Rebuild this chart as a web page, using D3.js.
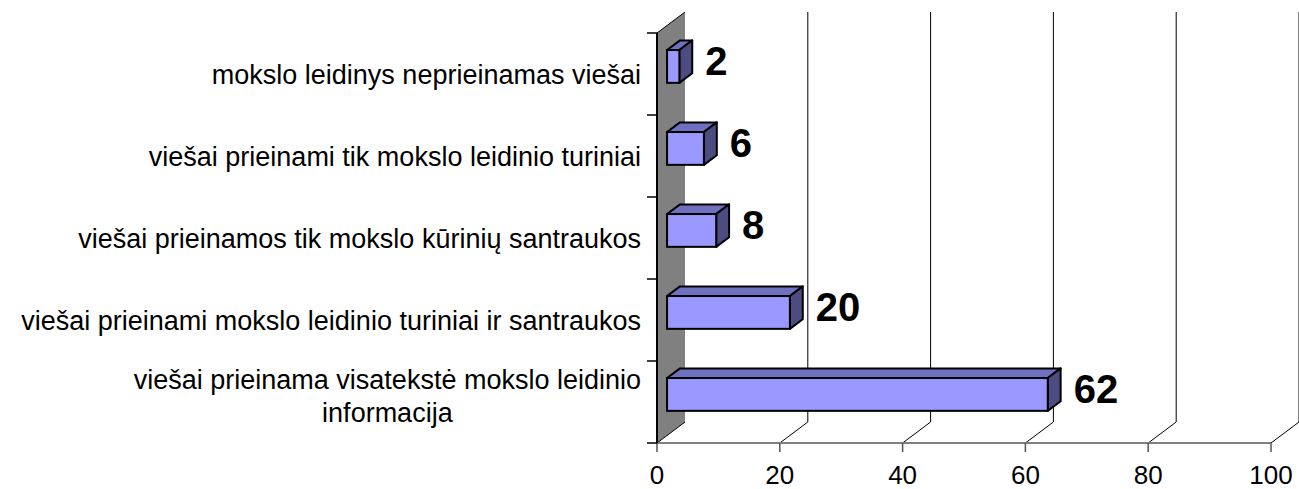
<!DOCTYPE html>
<html lang="lt">

<head>
  <meta charset="UTF-8">
  <title>Mokslo leidinių prieinamumas</title>
  <script src="https://d3js.org/d3.v7.min.js"></script>
  <style>
    body {
      margin: 0;
      background: #ffffff;
    }

    text {
      font-family: "Liberation Sans", Arial, sans-serif;
      fill: #000000;
    }

    .cat {
      font-size: 27px;
    }

    .tick-label {
      font-size: 26px;
    }

    .value {
      font-size: 40px;
      font-weight: bold;
    }
  </style>
</head>

<body>
  <svg width="1299" height="489"></svg>
  <script>
    // duomenys (iš viršaus į apačią)
    const categories = [
      "mokslo leidinys neprieinamas viešai",
      "viešai prieinami tik mokslo leidinio turiniai",
      "viešai prieinamos tik mokslo kūrinių santraukos",
      "viešai prieinami mokslo leidinio turiniai ir santraukos",
      "viešai prieinama visatekstė mokslo leidinio informacija"
    ];
    const labelLines = [
      ["mokslo leidinys neprieinamas viešai"],
      ["viešai prieinami tik mokslo leidinio turiniai"],
      ["viešai prieinamos tik mokslo kūrinių santraukos"],
      ["viešai prieinami mokslo leidinio turiniai ir santraukos"],
      ["viešai prieinama visatekstė mokslo leidinio", "informacija"]
    ];
    const values = [2, 6, 8, 20, 62];
    const xTicks = [0, 20, 40, 60, 80, 100];

    const svg = d3.select("svg");

    // priekinė plokštuma
    const x = d3.scaleLinear().domain([0, 100]).range([657, 1271]);
    const y = d3.scaleBand().domain(categories).range([33, 443]).paddingInner(0).paddingOuter(0);

    // 3D gylis
    const DX = 28, DY = -21;
    const z0 = 0.36, z1 = 0.82;
    const barH = y.bandwidth() * 0.4;

    const yTop = y.range()[0], yBottom = y.range()[1];

    // pilka siena
    svg.append("polygon")
      .attr("points", [
        [x(0), yTop], [x(0) + DX, yTop + DY], [x(0) + DX, yBottom + DY], [x(0), yBottom]
      ].map(p => p.join(",")).join(" "))
      .attr("fill", "#808080")
      .attr("stroke", "none");

    svg.append("line")
      .attr("x1", x(0)).attr("y1", yTop)
      .attr("x2", x(0) + DX).attr("y2", yTop + DY)
      .attr("stroke", "#000").attr("stroke-width", 1);

    svg.append("line")
      .attr("x1", x(0)).attr("y1", yBottom)
      .attr("x2", x(0) + DX).attr("y2", yBottom + DY)
      .attr("stroke", "#000").attr("stroke-width", 1);

    // tinklelis
    const grid = svg.append("g");
    xTicks.filter(t => t > 0).forEach(t => {
      grid.append("line")
        .attr("x1", x(t) + DX).attr("y1", yTop + DY)
        .attr("x2", x(t) + DX).attr("y2", yBottom + DY)
        .attr("stroke", "#000").attr("stroke-width", 1);
      grid.append("line")
        .attr("x1", x(t)).attr("y1", yBottom)
        .attr("x2", x(t) + DX).attr("y2", yBottom + DY)
        .attr("stroke", "#000").attr("stroke-width", 1);
    });

    // X ašis
    svg.append("line")
      .attr("x1", x(0)).attr("y1", yBottom)
      .attr("x2", x(100)).attr("y2", yBottom)
      .attr("stroke", "#808080").attr("stroke-width", 2);

    svg.selectAll(".xtick")
      .data(xTicks)
      .enter()
      .append("line")
      .attr("class", "xtick")
      .attr("x1", d => x(d)).attr("x2", d => x(d))
      .attr("y1", yBottom).attr("y2", yBottom + 9)
      .attr("stroke", "#555").attr("stroke-width", 1.5);

    svg.selectAll(".tick-label")
      .data(xTicks)
      .enter()
      .append("text")
      .attr("class", "tick-label")
      .attr("x", d => x(d))
      .attr("y", 484)
      .attr("text-anchor", "middle")
      .text(d => d);

    // Y ašis
    svg.append("line")
      .attr("x1", x(0)).attr("y1", yTop)
      .attr("x2", x(0)).attr("y2", yBottom)
      .attr("stroke", "#000").attr("stroke-width", 2);

    const yTicks = categories.map(c => y(c)).concat([yBottom]);
    svg.selectAll(".ytick")
      .data(yTicks)
      .enter()
      .append("line")
      .attr("class", "ytick")
      .attr("x1", x(0) - 10).attr("x2", x(0))
      .attr("y1", d => d).attr("y2", d => d)
      .attr("stroke", "#000").attr("stroke-width", 1.5);

    // stulpeliai
    const dzx = (z1 - z0) * DX, dzy = (z1 - z0) * DY;
    const pts = arr => arr.map(p => p.join(",")).join(" ");

    svg.selectAll(".bar")
      .data(values)
      .enter()
      .append("g")
      .attr("class", "bar")
      .each(function (v, i) {
        const g = d3.select(this);
        const yc = y(categories[i]) + y.bandwidth() / 2 + z0 * DY;
        const x0 = x(0) + z0 * DX, x1 = x(v) + z0 * DX;
        const y0 = yc - barH / 2, y1 = yc + barH / 2;

        g.append("polygon")
          .attr("points", pts([[x0, y0], [x1, y0], [x1 + dzx, y0 + dzy], [x0 + dzx, y0 + dzy]]))
          .attr("fill", "#7070c0").attr("stroke", "#000").attr("stroke-width", 2)
          .attr("stroke-linejoin", "round");
        g.append("polygon")
          .attr("points", pts([[x1, y0], [x1 + dzx, y0 + dzy], [x1 + dzx, y1 + dzy], [x1, y1]]))
          .attr("fill", "#4c4c80").attr("stroke", "#000").attr("stroke-width", 2)
          .attr("stroke-linejoin", "round");
        g.append("rect")
          .attr("x", x0).attr("y", y0)
          .attr("width", x1 - x0).attr("height", barH)
          .attr("fill", "#9999ff").attr("stroke", "#000").attr("stroke-width", 2);
      });

    // reikšmės
    svg.selectAll(".value")
      .data(values)
      .enter()
      .append("text")
      .attr("class", "value")
      .attr("x", d => x(d) + 36)
      .attr("y", (d, i) => y(categories[i]) + y.bandwidth() / 2 + 1)
      .text(d => d);

    // kategorijų pavadinimai
    labelLines.forEach((lines, i) => {
      const yc = y(categories[i]) + y.bandwidth() / 2;
      const n = lines.length;
      const t = svg.append("text").attr("class", "cat");
      lines.forEach((ln, j) => {
        t.append("tspan")
          .attr("y", yc + 9.5 + (j - (n - 1) / 2) * 33.4 - (n > 1 ? 6 : 0))
          .text(ln);
      });
      const w = d3.max(t.selectAll("tspan").nodes(), nd => nd.getComputedTextLength());
      t.selectAll("tspan")
        .attr("x", 641 - w / 2)
        .attr("text-anchor", "middle");
    });
  </script>
</body>

</html>
